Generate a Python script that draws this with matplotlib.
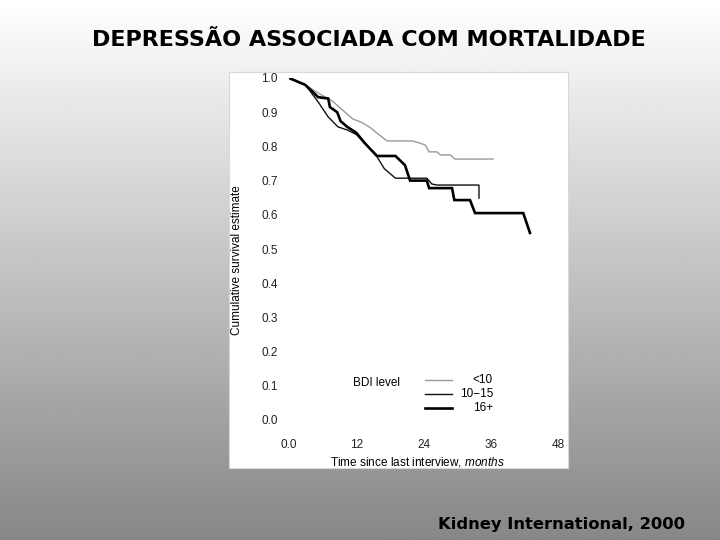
import matplotlib
matplotlib.use('Agg')
import matplotlib.pyplot as plt
import numpy as np
from matplotlib.patches import Rectangle

# Kaplan-Meier curves (months, survival)
months_lt10 = [0, 2.9, 5.2, 7.7, 10.0, 11.4, 13.0, 14.5, 16.0, 17.5, 22.0,
               23.3, 24.3, 25.0, 26.4, 27.0, 28.8, 29.6, 36.4]
surv_lt10 = [1.0, 0.98, 0.956, 0.933, 0.90, 0.88, 0.87, 0.855, 0.835, 0.816,
             0.816, 0.81, 0.804, 0.784, 0.784, 0.775, 0.775, 0.763, 0.763]

months_10_15 = [0, 2.9, 3.75, 5.2, 7.0, 8.75, 10.4, 12.0, 13.5, 15.7, 17.0,
                19.0, 24.6, 25.5, 26.4, 33.9, 33.9]
surv_10_15 = [1.0, 0.98, 0.962, 0.93, 0.886, 0.857, 0.848, 0.835, 0.81,
              0.77, 0.735, 0.707, 0.707, 0.69, 0.687, 0.687, 0.649]

months_16 = [0, 2.9, 5.2, 7.0, 7.3, 8.6, 9.2, 10.4, 12.0, 13.5, 15.7, 19.0,
             20.7, 21.6, 24.6, 25.0, 29.1, 29.5, 32.3, 33.2, 41.8, 43.0]
surv_16 = [1.0, 0.98, 0.944, 0.94, 0.915, 0.90, 0.874, 0.857, 0.84, 0.81,
           0.772, 0.772, 0.745, 0.70, 0.70, 0.678, 0.678, 0.643, 0.643,
           0.605, 0.605, 0.547]

series_labels = ['<10', '10\u221215', '16+']
series_colors = ['#9a9a9a', '#111111', '#000000']
series_widths = [1.0, 1.0, 1.9]

x_ticks = [0, 12, 24, 36, 48]
x_tick_labels = ['0.0', '12', '24', '36', '48']
y_ticks = np.round(np.arange(0, 1.01, 0.1), 1)

W, H = 720, 540
plt.rcParams['font.family'] = ['Liberation Sans', 'DejaVu Sans']
plt.rcParams['mathtext.fontset'] = 'custom'
plt.rcParams['mathtext.it'] = 'Liberation Sans:italic'
plt.rcParams['mathtext.rm'] = 'Liberation Sans'

fig = plt.figure(figsize=(W / 100, H / 100), dpi=100)


def px(x, y):
    """pixel (from top-left) -> figure fraction"""
    return x / W, 1 - y / H


# slide background: white fading to grey
bg = fig.add_axes([0, 0, 1, 1])
grad = np.linspace(1.0, 0.53, 256).reshape(-1, 1)
bg.imshow(grad, cmap='gray', vmin=0, vmax=1, aspect='auto',
          extent=[0, 1, 0, 1])
bg.set_xlim(0, 1)
bg.set_ylim(0, 1)
bg.axis('off')

# white panel of the pasted figure
x0, y0 = px(229, 468)
bg.add_patch(Rectangle((x0, y0), (568 - 229) / W, (468 - 72) / H,
                       facecolor='white', edgecolor='#d8d8d8', lw=0.8))

fig.text(*px(369, 40), 'DEPRESSÃO ASSOCIADA COM MORTALIDADE',
         family='DejaVu Sans', weight='bold', fontsize=16,
         ha='center', va='center')
fig.text(*px(562, 525), 'Kidney International, 2000',
         family='DejaVu Sans', weight='bold', fontsize=11.8,
         ha='center', va='center')

# survival plot
left, bottom = px(289, 420)
ax = fig.add_axes([left, bottom, (558 - 289) / W, (420 - 78) / H])
ax.patch.set_alpha(0)
for m, s, c, w in zip([months_lt10, months_10_15, months_16],
                      [surv_lt10, surv_10_15, surv_16],
                      series_colors, series_widths):
    ax.plot(m, s, color=c, lw=w, solid_joinstyle='miter')

ax.set_xlim(0, 48)
ax.set_ylim(0, 1)
ax.set_xticks(x_ticks, labels=x_tick_labels)
ax.set_yticks(y_ticks, labels=[f'{v:.1f}' for v in y_ticks])
ax.tick_params(length=0, labelsize=8.5, colors='#222222')
ax.tick_params(axis='y', pad=8)
ax.tick_params(axis='x', pad=14)
for sp in ax.spines.values():
    sp.set_visible(False)

# legend drawn as in the original
ax.text(11.4, 0.108, 'BDI level', fontsize=8.5, ha='left', va='center')
leg_y = [0.117, 0.076, 0.035]
for lab, c, w, ly in zip(series_labels, series_colors, series_widths, leg_y):
    ax.plot([24.3, 29.1], [ly, ly], color=c, lw=w)
    ax.text(36.4, ly, lab, fontsize=8.5, ha='right', va='center')

fig.text(*px(237, 260), 'Cumulative survival estimate', rotation=90,
         fontsize=8.5, ha='center', va='center')
fig.text(*px(417, 462), r'Time since last interview, $\it{months}$',
         fontsize=8.5, ha='center', va='center')

fig.savefig('out.png', dpi=100)
